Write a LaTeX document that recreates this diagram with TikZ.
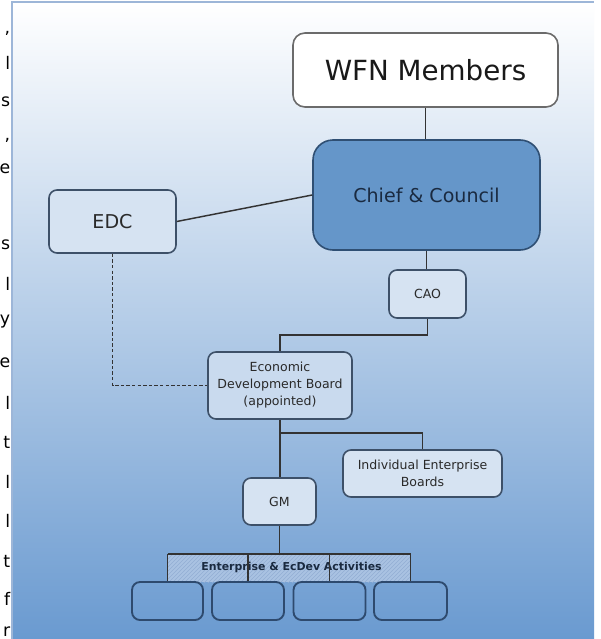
\documentclass[tikz,border=0pt]{standalone}
\usepackage{fontspec}
\setmainfont{DejaVu Sans}
\usetikzlibrary{patterns}
\definecolor{bgmid}{HTML}{C9D6EA}
\definecolor{bgbot}{HTML}{6A9AD0}
\definecolor{panelline}{HTML}{9DB6D8}
\definecolor{boxline}{HTML}{3D5068}
\definecolor{lightfill}{HTML}{D6E3F2}
\definecolor{edbfill}{HTML}{C9DAEE}
\definecolor{chieffill}{HTML}{6596C9}
\definecolor{chiefline}{HTML}{2F4F73}
\definecolor{wfnline}{HTML}{6B6B6B}
\definecolor{connc}{HTML}{333333}
\definecolor{txt}{HTML}{2A2A2A}
\definecolor{chieftxt}{HTML}{1A2A40}
\definecolor{bandfill}{HTML}{A9C2E2}
\definecolor{bandhatch}{HTML}{93AED4}
\definecolor{botline}{HTML}{2E4A6E}
\begin{document}
\begin{tikzpicture}[x=0.75pt,y=-0.75pt,
  box/.style={draw=boxline, line width=1.2pt, rounded corners=6pt, inner sep=0pt, align=center, text=txt, fill=lightfill},
  conn/.style={draw=connc, line width=1.1pt},
  leftch/.style={anchor=base east, font=\fontsize{13}{15}\selectfont, text=black, inner sep=0pt},
  smalltxt/.style={font=\fontsize{9.4}{12.75}\selectfont}]
\useasboundingbox (0,0) rectangle (600,639);
\fill[white] (0,0) rectangle (600,639);
% background panel
\shade[top color=white, middle color=bgmid, bottom color=bgbot] (12,2) rectangle (594,639);
\draw[panelline, line width=0.8pt] (12,639) -- (12,2) -- (594,2);
% cut-off text of the neighbouring page
\node[leftch] (c1) at (10.5,33) {,};
\node[leftch] (c2) at (10.5,69) {l};
\node[leftch] (c3) at (10.5,106) {s};
\node[leftch] (c4) at (10.5,140) {,};
\node[leftch] (c5) at (10.5,173) {e};
\node[leftch] (c6) at (10.5,249) {s};
\node[leftch] (c7) at (10.5,290) {l};
\node[leftch] (c8) at (10.5,324) {y};
\node[leftch] (c9) at (10.5,367) {e};
\node[leftch] (c10) at (10.5,409) {l};
\node[leftch] (c11) at (10.5,448) {t};
\node[leftch] (c12) at (10.5,488) {l};
\node[leftch] (c13) at (10.5,527) {l};
\node[leftch] (c14) at (10.5,567) {t};
\node[leftch] (c15) at (10.5,605) {f};
\node[leftch] (c16) at (10.5,636) {r};
% nodes
\node[box, fill=white, draw=wfnline, line width=1.2pt, rounded corners=9pt, minimum width=198.75pt, minimum height=55.5pt, font=\fontsize{20.8}{24}\selectfont, text=black!90] (wfn) at (425.5,70) {WFN Members};
\node[box, fill=chieffill, draw=chiefline, line width=1.2pt, rounded corners=15pt, minimum width=170.25pt, minimum height=82.5pt, font=\fontsize{14.3}{17}\selectfont, text=chieftxt] (chief) at (426.5,195) {Chief \& Council};
\node[box, minimum width=95.25pt, minimum height=47.25pt, font=\fontsize{14.3}{17}\selectfont] (edc) at (112.5,221.5) {EDC};
\node[box, minimum width=57.75pt, minimum height=36pt, smalltxt] (cao) at (427.5,294) {CAO};
\node[box, fill=edbfill, minimum width=108pt, minimum height=50.25pt, smalltxt] (edb) at (280,385.5) {Economic\\Development Board\\(appointed)};
\node[box, minimum width=119.25pt, minimum height=35.25pt, smalltxt] (ieb) at (422.5,473.5) {Individual Enterprise\\Boards};
\node[box, minimum width=54.75pt, minimum height=35.25pt, smalltxt] (gm) at (279.5,501.5) {GM};
% activities band
\node[inner sep=0pt, minimum width=182.25pt, minimum height=21pt, preaction={fill=bandfill}, pattern=north east lines, pattern color=bandhatch] (band) at (288.75,568) {};
\node[inner sep=0pt, font=\bfseries\fontsize{8.2}{10}\selectfont, text=chieftxt] (bandtxt) at (291.5,567) {Enterprise \& EcDev Activities};
\node[box, fill=none, draw=botline, line width=1.4pt, minimum width=53.25pt, minimum height=28.5pt] (b1) at (167.5,601) {};
\node[box, fill=none, draw=botline, line width=1.4pt, minimum width=54pt, minimum height=28.5pt] (b2) at (248,601) {};
\node[box, fill=none, draw=botline, line width=1.4pt, minimum width=54pt, minimum height=28.5pt] (b3) at (329.5,601) {};
\node[box, fill=none, draw=botline, line width=1.4pt, minimum width=54.75pt, minimum height=28.5pt] (b4) at (410.5,601) {};
% connectors
\coordinate (j1) at (280,335);
\coordinate (j2) at (280,433);
\coordinate (busL) at (167.5,554);
\coordinate (busR) at (410.5,554);
\draw[conn] (wfn.south) -- (wfn.south |- chief.north);
\draw[conn] (edc.east) -- (chief.west);
\draw[conn] (chief.south) -- (chief.south |- cao.north);
\draw[conn] (cao.south) |- (j1) -- (edb.north);
\draw[conn, dash pattern=on 2.6pt off 1.6pt] (edc.south) |- (edb.west);
\draw[conn] (edb.south) -- (edb.south |- gm.north);
\draw[conn] (j2) -| (ieb.north);
\draw[conn] (gm.south) -- (gm.south |- busL);
\draw[conn] (busL) -- (busR);
\draw[conn] (busL) -- (b1.north);
\draw[conn] (b2.north |- busL) -- (b2.north);
\draw[conn] (b3.north |- busL) -- (b3.north);
\draw[conn] (busR) -- (b4.north);
\end{tikzpicture}
\end{document}
